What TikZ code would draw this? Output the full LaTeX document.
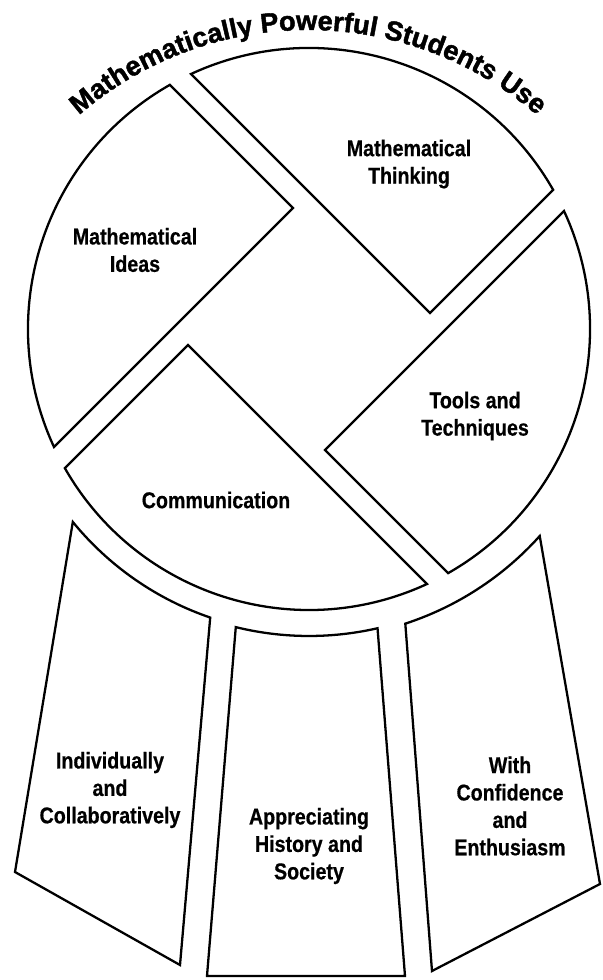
\documentclass[tikz,border=0pt]{standalone}
\usepackage{fontspec}
\setmainfont{Liberation Sans}
\newfontfamily\labelfont{Liberation Sans}[FakeStretch=0.86, BoldFeatures={FakeBold=0.6}]
\newfontfamily\titlefont{Liberation Sans}[BoldFeatures={FakeBold=1.6}]
\usetikzlibrary{decorations.text}
\tikzset{
  piece/.style={line width=1.3pt},
  lbl/.style={align=center, font=\labelfont\bfseries\fontsize{13}{15.6}\selectfont},
}
\begin{document}
\begin{tikzpicture}[x=0.02cm,y=0.02cm]
\useasboundingbox (0,0) rectangle (602,980);
\coordinate (O) at (309,651);
\coordinate (T) at (308,600);

\path [decorate, decoration={text along path, text align=center,
  text={|\titlefont\bfseries\fontsize{15.5}{16}\selectfont|Mathematically Powerful Students Use}}]
  ([shift={(135:350)}]T) arc[start angle=135, end angle=45, radius=350];

\foreach \ang in {45,-45,-135,135}
  \draw [piece, shift={(O)}, rotate=\ang] (96.9,-74.2) -- (271.03,-74.2)
    arc[start angle=-15.31, end angle=69.83, radius=281] -- cycle;

\draw [piece] ([shift={(-140.75:305)}]O) arc[start angle=-140.75, end angle=-108.9, radius=305] -- (180,15) -- (15,108) -- cycle;
\draw [piece] ([shift={(-103.8:307)}]O) arc[start angle=-103.8, end angle=-77.1, radius=307] -- (405,4) -- (207,4) -- cycle;
\draw [piece] ([shift={(-71.9:310)}]O) arc[start angle=-71.9, end angle=-41.9, radius=310] -- (600,96) -- (432,9) -- cycle;

\node [lbl] (think) at (409,816) {Mathematical\\Thinking};
\node [lbl] (ideas) at (135,730) {Mathematical\\Ideas};
\node [lbl] (tools) at (475,564) {Tools and\\Techniques};
\node [lbl] (comm) at (216,480) {Communication};
\node [lbl] (indiv) at (110,190) {Individually\\and\\Collaboratively};
\node [lbl] (hist) at (309,134) {Appreciating\\History and\\Society};
\node [lbl] (enth) at (510,174) {With\\Confidence\\and\\Enthusiasm};
\end{tikzpicture}
\end{document}
